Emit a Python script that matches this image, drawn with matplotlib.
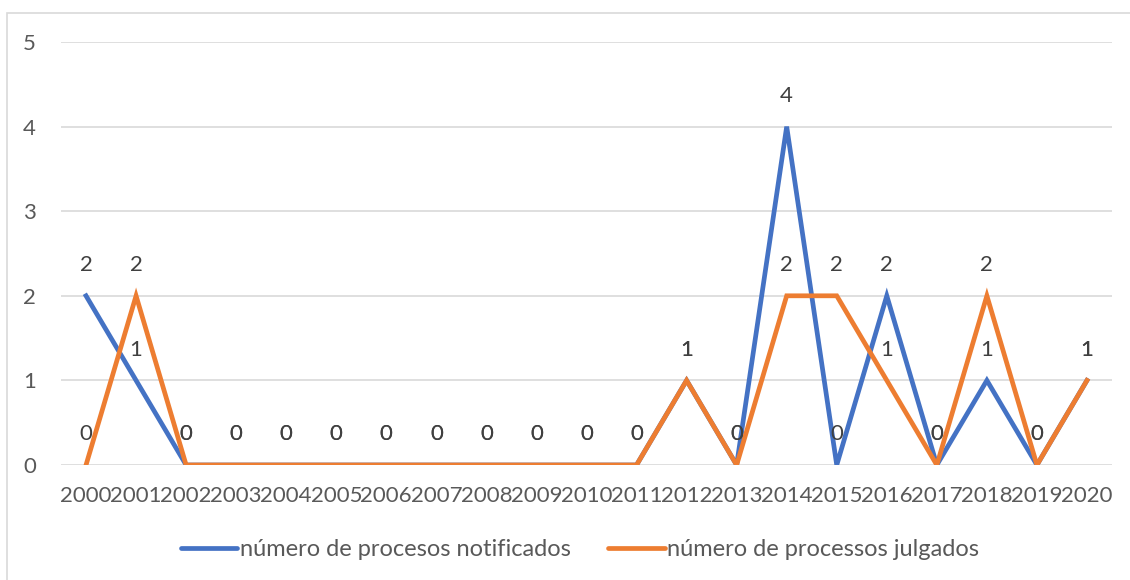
import matplotlib
matplotlib.use("Agg")
import matplotlib.pyplot as plt
from matplotlib.patches import Rectangle

years = [str(y) for y in range(2000, 2021)]
notificados = [2, 1, 0, 0, 0, 0, 0, 0, 0, 0, 0, 0, 1, 0, 4, 0, 2, 0, 1, 0, 1]
julgados = [0, 2, 0, 0, 0, 0, 0, 0, 0, 0, 0, 0, 1, 0, 2, 2, 1, 0, 2, 0, 1]
labels = ["número de procesos notificados", "número de processos julgados"]

plt.rcParams['font.family'] = ['Lato', 'DejaVu Sans']

fig = plt.figure(figsize=(11.3, 5.8), dpi=100)
ax = fig.add_axes([61/1130, 1-465/580, (1112-61)/1130, (465-42)/580])

# border around the chart area
fig.patches.append(Rectangle((7/1130, -0.1), 1.2, 1-13/580+0.1, transform=fig.transFigure,
                             fill=False, edgecolor='#D9D9D9', lw=1.2))

x = list(range(len(years)))
ax.plot(x, notificados, color='#4472C4', lw=3.4, label=labels[0], solid_joinstyle='miter', zorder=3)
ax.plot(x, julgados, color='#ED7D31', lw=3.4, label=labels[1], solid_joinstyle='miter', zorder=4)

for serie in (notificados, julgados):
    for i, v in enumerate(serie):
        ax.annotate(str(v), (i, v), xytext=(0, 22), textcoords='offset points',
                    ha='center', va='center', fontsize=16, color='#404040', zorder=5)

ax.set_xlim(-0.5, len(years) - 0.5)
ax.set_ylim(0, 5)
ax.set_xticks(x)
ax.set_xticklabels(years)
ax.set_yticks(range(6))
ax.grid(axis='y', color='#D9D9D9', lw=1.2)
ax.set_axisbelow(True)
for s in ax.spines.values():
    s.set_visible(False)
ax.tick_params(length=0, labelsize=16, colors='#595959')
ax.tick_params(axis='y', pad=18)
ax.tick_params(axis='x', pad=15)

leg = fig.legend(loc='center', bbox_to_anchor=(580/1130, 1-550/580), ncol=2, frameon=False,
                 fontsize=17, handlelength=2.4, handletextpad=0.1, columnspacing=1.6)
for t in leg.get_texts():
    t.set_color('#595959')
for h in leg.get_lines():
    h.set_linewidth(3.4)
    h.set_solid_capstyle('round')

fig.savefig("out.png", dpi=100)
